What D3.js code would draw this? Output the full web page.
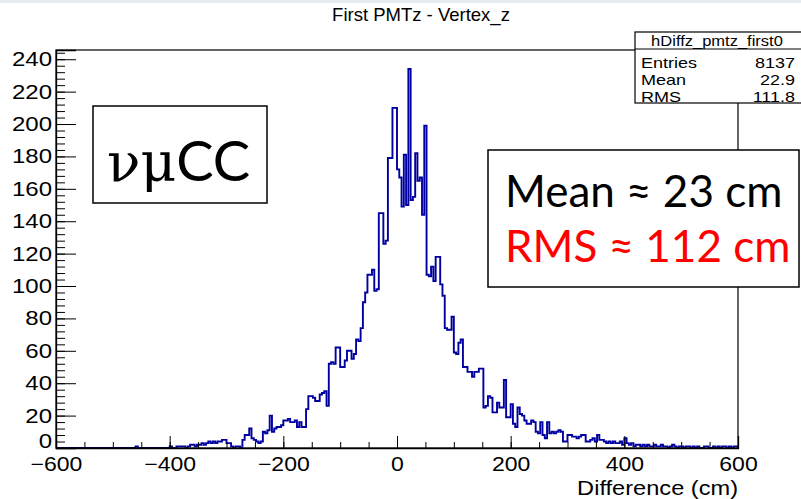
<!DOCTYPE html>
<html>
<head>
<meta charset="utf-8">
<script src="https://cdn.jsdelivr.net/npm/d3@7"></script>
<style>
  html, body { margin: 0; padding: 0; background: #fff; }
  svg { display: block; }
</style>
</head>
<body>
<div id="chart"></div>
<script>
"use strict";

// ---------------------------------------------------------------------------
// Data: 300 bins of 4 cm from -600 to 600
// ---------------------------------------------------------------------------

const X_RANGE = [-600, 600];

const counts = [
    // -600 .. -480
    0, 0, 0, 0, 0, 0, 0, 0, 0, 0,
    0, 0, 0, 0, 0, 0, 0, 0, 0, 0,
    0, 0, 0, 0, 0, 0, 0, 0, 0, 0,
    // -480 .. -400
    0, 0, 0, 0, 0, 1, 0, 0, 0, 0,
    0, 0, 0, 0, 0, 0, 0, 0, 0, 0,
    // -400 .. -280
    1, 0, 0, 1, 1, 1, 1, 0, 1, 2,
    2, 1, 2, 2, 3, 2, 3, 4, 3, 4,
    3, 4, 4, 5, 5, 3, 3, 1, 0, 1,
    // -280 .. -160
    1, 0, 5, 8, 8, 12, 6, 5, 4, 3,
    4, 10, 9, 11, 20, 10, 12, 13, 13, 14,
    17, 17, 18, 16, 16, 17, 13, 16, 13, 13,
    // -160 .. -40
    24, 32, 32, 31, 29, 29, 33, 34, 35, 26,
    52, 53, 52, 62, 62, 50, 50, 54, 60, 60,
    55, 58, 67, 66, 74, 90, 96, 107, 107, 110,
    // -40 .. 80
    97, 98, 145, 145, 126, 128, 179, 179, 210, 210,
    172, 167, 149, 181, 150, 234, 153, 155, 182, 165,
    167, 144, 199, 107, 106, 112, 103, 118, 118, 101,
    // 80 .. 200
    94, 74, 73, 73, 81, 59, 58, 65, 67, 50,
    50, 47, 47, 44, 47, 47, 49, 49, 25, 26,
    32, 31, 22, 22, 28, 25, 25, 42, 19, 19,
    // 200 .. 320
    27, 15, 13, 25, 21, 20, 17, 15, 15, 17,
    16, 10, 9, 16, 8, 6, 16, 9, 10, 9,
    10, 11, 10, 4, 4, 8, 8, 7, 7, 6,
    // 320 .. 440
    7, 8, 8, 4, 4, 5, 6, 4, 8, 5,
    5, 4, 3, 4, 3, 4, 3, 3, 4, 2,
    6, 3, 2, 3, 1, 2, 2, 1, 2, 1,
    // 440 .. 600
    2, 1, 1, 2, 1, 1, 2, 1, 1, 0,
    1, 2, 1, 0, 1, 1, 0, 1, 1, 0,
    1, 0, 1, 0, 0, 1, 1, 0, 0, 1,
    0, 1, 0, 1, 1, 0, 1, 0, 1, 1
];

const xMajorTicks = [-600, -400, -200, 0, 200, 400, 600];
const yMajorTicks = [0, 20, 40, 60, 80, 100, 120, 140, 160, 180, 200, 220, 240];

const title = "First PMTz - Vertex_z";
const xTitle = "Difference (cm)";

const statsName = "hDiffz_pmtz_first0";
const statsLabels = ["Entries", "Mean", "RMS"];
const statsValues = ["8137", "22.9", "111.8"];

const tagGreek = "\u03bd\u03bc";
const tagLatin = "CC";
const noteLines = ["Mean \u2248 23 cm", "RMS \u2248 112 cm"];
const noteColors = ["#000000", "#ff0000"];


/*
 * ============================================================================
 * Plot
 * ============================================================================
 */

const W = 801, H = 499;
const FRAME = { left: 56, right: 738, top: 50, bottom: 448 };
const FONT = "'Liberation Sans', Arial, Helvetica, sans-serif";
const SLIDE_FONT = "Lato, 'Open Sans', sans-serif";
const HIST_COLOR = "#0000a0";
const STRETCH = 1.2;   // ROOT text in the screenshot is widened

// widen text horizontally, keeping its anchor
function stretch(sel, k) {
    sel.each(function() {
        const w = this.getComputedTextLength();
        d3.select(this)
            .attr("textLength", w * k)
            .attr("lengthAdjust", "spacingAndGlyphs");
    });
}

const svg = d3.select("#chart")
  .append("svg")
    .attr("width", W)
    .attr("height", H)
    .style("font-family", FONT);

svg.append("rect")
    .attr("width", W).attr("height", H)
    .attr("fill", "#fff");

// faint slide edge at the very top
svg.append("rect")
    .attr("width", W).attr("height", 3)
    .attr("fill", "#e6eaf3");

const binWidth = (X_RANGE[1] - X_RANGE[0]) / counts.length;
const bins = counts.map((c, i) => ({
    lo: X_RANGE[0] + i * binWidth,
    hi: X_RANGE[0] + (i + 1) * binWidth,
    n: c
}));

const yMax = 1.05 * d3.max(counts);

const x = d3.scaleLinear()
    .domain(X_RANGE)
    .range([FRAME.left, FRAME.right]);

const y = d3.scaleLinear()
    .domain([0, yMax])
    .range([FRAME.bottom, FRAME.top]);

// histogram outline as a step path
const pts = [[x(X_RANGE[0]), y(0)]];
bins.forEach(b => {
    pts.push([x(b.lo), y(b.n)]);
    pts.push([x(b.hi), y(b.n)]);
});
pts.push([x(X_RANGE[1]), y(0)]);

svg.append("path")
    .attr("d", d3.line()(pts))
    .attr("fill", "none")
    .attr("stroke", HIST_COLOR)
    .attr("stroke-width", 1.9)
    .attr("stroke-linejoin", "miter");

// frame
svg.append("rect")
    .attr("x", FRAME.left)
    .attr("y", FRAME.top)
    .attr("width", FRAME.right - FRAME.left)
    .attr("height", FRAME.bottom - FRAME.top)
    .attr("fill", "none")
    .attr("stroke", "#000")
    .attr("stroke-width", 1.2);

// x axis
const xMinor = d3.range(X_RANGE[0], X_RANGE[1] + 1, 50);
svg.append("g")
    .attr("transform", `translate(0,${FRAME.bottom})`)
    .call(d3.axisBottom(x).tickValues(xMinor).tickSize(-6).tickFormat(""))
    .call(g => g.select(".domain").remove());

const xAxis = svg.append("g")
    .attr("transform", `translate(0,${FRAME.bottom})`)
    .call(d3.axisBottom(x).tickValues(xMajorTicks).tickSize(-12).tickPadding(9))
    .call(g => g.select(".domain").attr("stroke-width", 1.3));
xAxis.selectAll("text")
    .attr("font-family", FONT)
    .attr("font-size", 20)
    .attr("fill", "#000")
    .call(stretch, 1.15);

// y axis
const yMinor = d3.range(0, yMax, 4);
svg.append("g")
    .attr("transform", `translate(${FRAME.left},0)`)
    .call(d3.axisLeft(y).tickValues(yMinor).tickSize(-9).tickFormat(""))
    .call(g => g.select(".domain").remove());

const yAxis = svg.append("g")
    .attr("transform", `translate(${FRAME.left},0)`)
    .call(d3.axisLeft(y).tickValues(yMajorTicks).tickSize(-20).tickPadding(4))
    .call(g => g.select(".domain").attr("stroke-width", 1.3));
yAxis.selectAll("text")
    .attr("font-family", FONT)
    .attr("font-size", 20)
    .attr("fill", "#000")
    .call(stretch, 1.2);
// ROOT lifts the zero label off the corner
yAxis.selectAll(".tick")
    .filter(d => d === 0)
    .select("text")
    .attr("dy", "-0.05em");

// titles
svg.append("text")
    .attr("x", 421)
    .attr("y", 21)
    .attr("text-anchor", "middle")
    .attr("font-size", 18.5)
    .text(title);

svg.append("text")
    .attr("x", FRAME.right)
    .attr("y", 495)
    .attr("text-anchor", "end")
    .attr("font-size", 20)
    .text(xTitle)
    .call(stretch, 1.18);

// stats box
const stats = svg.append("g");
stats.append("rect")
    .attr("x", 635).attr("y", 32)
    .attr("width", 170).attr("height", 71)
    .attr("fill", "#fff")
    .attr("stroke", "#000")
    .attr("stroke-width", 1.2);
stats.append("line")
    .attr("x1", 635).attr("x2", 805)
    .attr("y1", 49).attr("y2", 49)
    .attr("stroke", "#000")
    .attr("stroke-width", 1.2);
stats.append("text")
    .attr("x", 717).attr("y", 46)
    .attr("text-anchor", "middle")
    .attr("font-size", 15)
    .text(statsName)
    .call(stretch, 1.1);
statsLabels.forEach((lab, i) => {
    stats.append("text")
        .attr("x", 641).attr("y", 68 + i * 17)
        .attr("font-size", 15)
        .text(lab)
        .call(stretch, STRETCH);
    stats.append("text")
        .attr("x", 795).attr("y", 68 + i * 17)
        .attr("text-anchor", "end")
        .attr("font-size", 15)
        .text(statsValues[i])
        .call(stretch, STRETCH);
});

// annotation boxes
const tag = svg.append("g");
tag.append("rect")
    .attr("x", 93).attr("y", 106)
    .attr("width", 174).attr("height", 97)
    .attr("fill", "#fff")
    .attr("stroke", "#000")
    .attr("stroke-width", 1.5);
const tagText = tag.append("text")
    .attr("x", 107).attr("y", 181);
tagText.append("tspan")
    .attr("font-family", "'DejaVu Serif', 'Liberation Serif', serif")
    .attr("font-size", 55)
    .text(tagGreek);
tagText.append("tspan")
    .attr("font-family", SLIDE_FONT)
    .attr("font-size", 56)
    .text(tagLatin);

const note = svg.append("g");
note.append("rect")
    .attr("x", 488).attr("y", 150)
    .attr("width", 311).attr("height", 137)
    .attr("fill", "#fff")
    .attr("stroke", "#000")
    .attr("stroke-width", 1.5);
noteLines.forEach((t, i) => {
    note.append("text")
        .attr("x", 505).attr("y", 207 + i * 55)
        .attr("font-family", SLIDE_FONT)
        .attr("font-size", 44)
        .attr("fill", noteColors[i])
        .text(t);
});
</script>
</body>
</html>
